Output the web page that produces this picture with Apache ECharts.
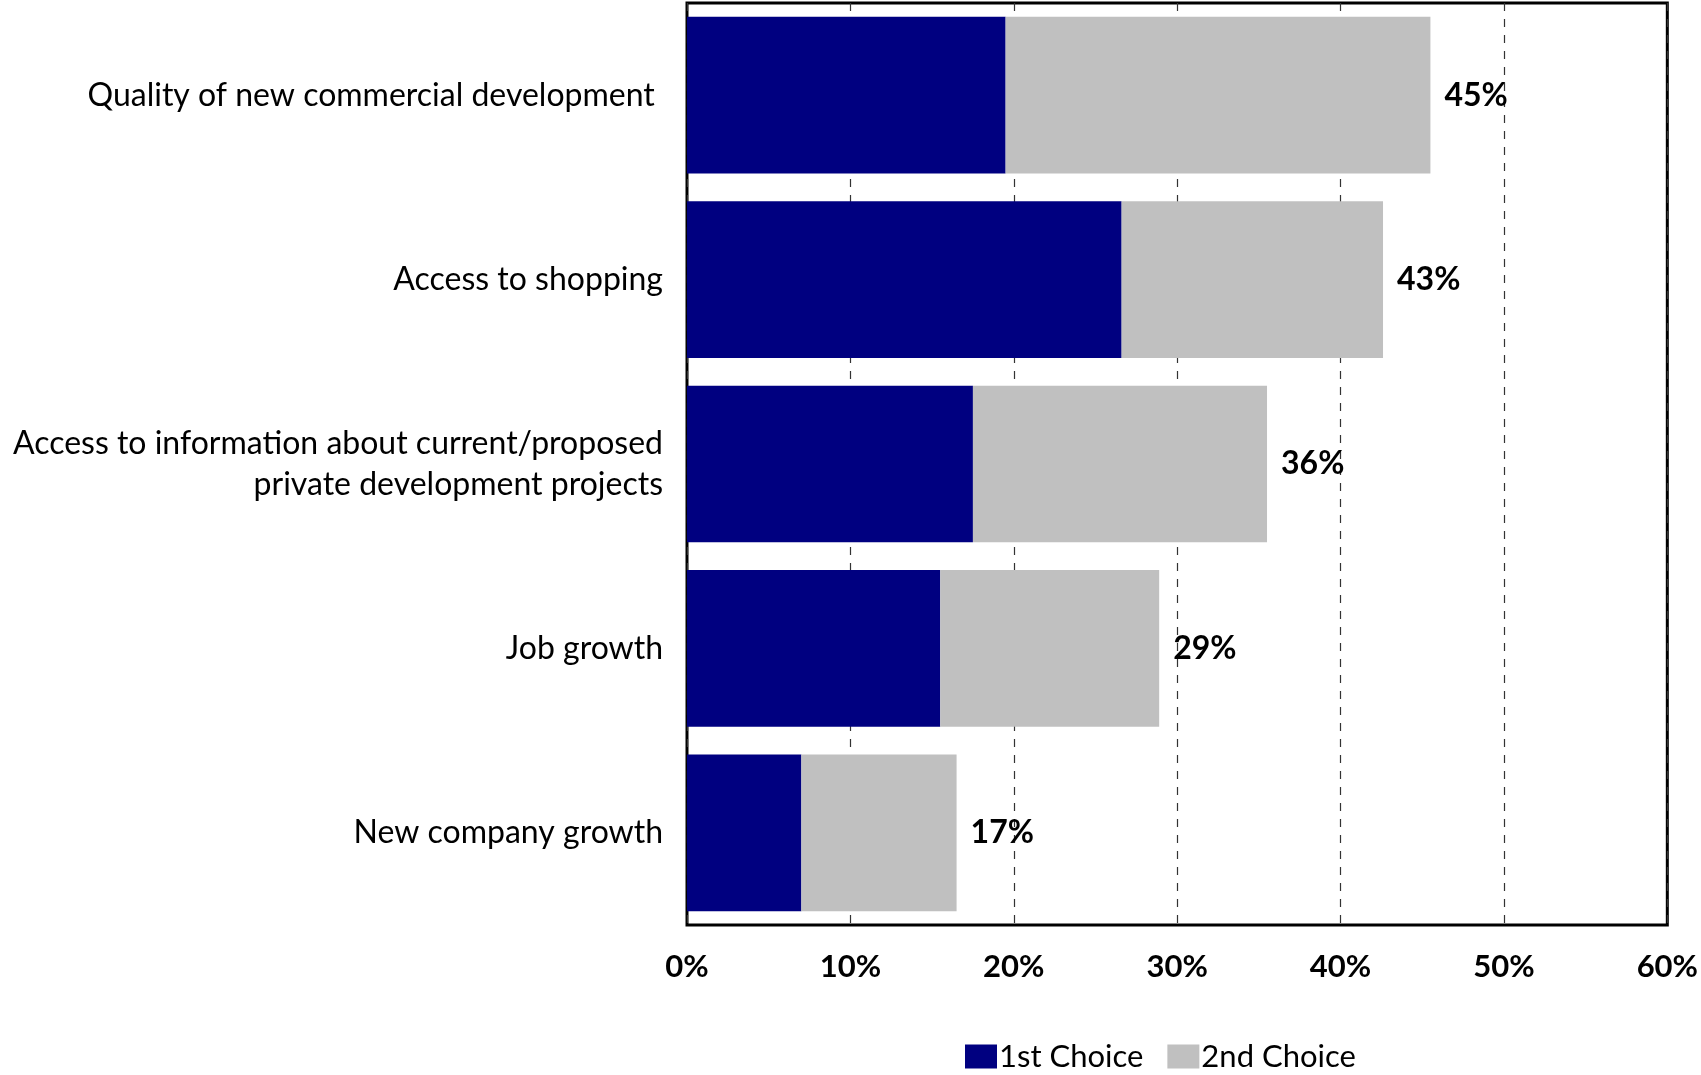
<!DOCTYPE html>
<html>
<head>
<meta charset="utf-8">
<script src="https://cdn.jsdelivr.net/npm/echarts@6/dist/echarts.min.js"></script>
<style>
  html, body { margin: 0; padding: 0; background: #fff; }
  #chart { width: 1701px; height: 1075px; }
</style>
</head>
<body>
<div id="chart"></div>
<script>
// categories, top to bottom as in the picture
const categories = [
  'Quality of new commercial development ',
  'Access to shopping',
  'Access to information about current/proposed\nprivate development projects',
  'Job growth',
  'New company growth'
];
const firstChoice = [19.5, 26.6, 17.5, 15.5, 7.0];
const secondChoice = [26.0, 16.0, 18.0, 13.4, 9.5];
const totalLabels = ['45%', '43%', '36%', '29%', '17%'];
const xTicks = [0, 10, 20, 30, 40, 50, 60];

const font = 'Lato, "Open Sans", sans-serif';
const chart = echarts.init(document.getElementById('chart'));

chart.setOption({
  animation: false,
  textStyle: { fontFamily: font },
  grid: {
    left: 687, top: 3, width: 981, height: 922,
    show: true, borderColor: '#000', borderWidth: 3, backgroundColor: 'transparent'
  },
  legend: {
    top: 1036, left: 960, icon: 'rect',
    itemWidth: 32, itemHeight: 24, itemGap: 24,
    textStyle: { fontFamily: font, fontSize: 31, color: '#000', padding: [0, 0, 0, -3] },
    data: ['1st Choice', '2nd Choice']
  },
  xAxis: {
    type: 'value', min: 0, max: 60, interval: 10,
    axisLine: { show: false }, axisTick: { show: false },
    splitLine: { lineStyle: { color: '#333', type: [8, 8], width: 1.2 } },
    axisLabel: {
      margin: 26, fontSize: 31, fontWeight: 'bold', color: '#000',
      formatter: v => xTicks.includes(v) ? v + '%' : ''
    }
  },
  yAxis: {
    type: 'category', inverse: true, data: categories,
    axisLine: { show: false }, axisTick: { show: false },
    axisLabel: { margin: 24, fontSize: 32, color: '#000', lineHeight: 41, align: 'right' }
  },
  series: [
    {
      name: '1st Choice', type: 'bar', stack: 'all', barWidth: '85%',
      itemStyle: { color: '#000080' }, data: firstChoice
    },
    {
      name: '2nd Choice', type: 'bar', stack: 'all',
      itemStyle: { color: '#c0c0c0' }, data: secondChoice,
      label: {
        show: true, position: 'right', distance: 14,
        fontSize: 32, fontWeight: 'bold', color: '#000',
        formatter: p => totalLabels[p.dataIndex]
      }
    }
  ]
});
</script>
</body>
</html>
